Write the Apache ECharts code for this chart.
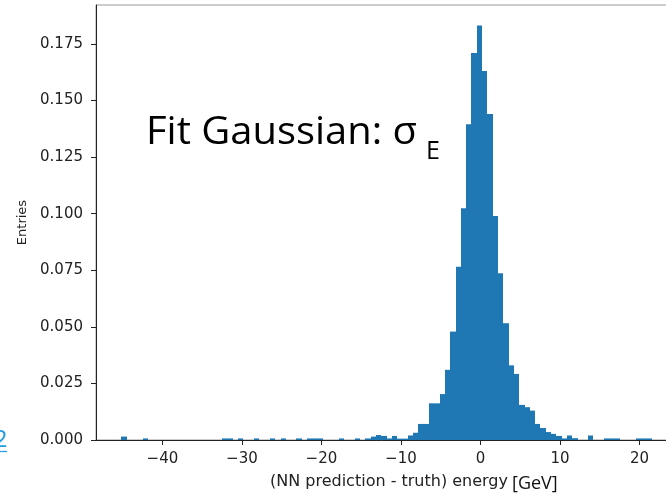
<!DOCTYPE html>
<html>
<head>
<meta charset="utf-8">
<script src="https://cdn.jsdelivr.net/npm/echarts@6/dist/echarts.min.js"></script>
<style>
  html, body { margin: 0; padding: 0; background: #fff; }
  #main { width: 666px; height: 496px; }
</style>
</head>
<body>
<div id="main"></div>
<script>
// histogram bins: left edge of first bin and bin width (GeV)
var binStart = -45.15;
var binWidth = 0.667;

// bin heights (normalised entries)
var binValues = [
    0.0015, 0, 0, 0, 0.0007, 0, 0, 0, 0, 0,
    0, 0, 0, 0, 0, 0, 0, 0, 0, 0.0007,
    0.0007, 0, 0.0007, 0, 0, 0.0007, 0, 0, 0.0007, 0,
    0.0007, 0, 0, 0.0007, 0, 0.0007, 0.0007, 0.0007, 0, 0,
    0, 0.0007, 0, 0, 0.0007, 0, 0.0007, 0.0015, 0.0022, 0.0018,
    0.0007, 0.0018, 0.0006, 0.0006, 0.0020, 0.0032, 0.0071, 0.0071, 0.0162, 0.0162,
    0.0203, 0.0310, 0.0479, 0.0766, 0.1024, 0.1395, 0.1710, 0.1831, 0.1630, 0.1440,
    0.0990, 0.0737, 0.0516, 0.0330, 0.0292, 0.0155, 0.0145, 0.0130, 0.0071, 0.0053,
    0.0035, 0.0027, 0.0018, 0.0007, 0.0020, 0.0008, 0, 0, 0.0020, 0,
    0, 0.0007, 0.0007, 0.0007, 0, 0, 0, 0.0007, 0.0007, 0.0007
];

var xTicks = [-40, -30, -20, -10, 0, 10, 20];
var yTicks = [0, 0.025, 0.05, 0.075, 0.1, 0.125, 0.15, 0.175];

var chartDom = document.getElementById('main');
var myChart = echarts.init(chartDom);
var option;

var bins = [];
binValues.forEach(function (v, i) {
    if (v > 0) {
        var lo = binStart + i * binWidth;
        bins.push([lo, lo + binWidth, v]);
    }
});

option = {
    animation: false,
    grid: {
        left: 96,
        top: 5,
        right: -16,
        bottom: 56,
        show: true,
        borderColor: '#999',
        borderWidth: 1,
        outerBoundsMode: 'none'
    },
    xAxis: {
        type: 'value',
        min: -48.35,
        max: 25.35,
        name: '(NN prediction - truth) energy',
        nameLocation: 'middle',
        nameGap: 34,
        nameTextStyle: { fontFamily: 'DejaVu Sans', fontSize: 16, color: '#222' },
        axisLine: { onZero: false, lineStyle: { color: '#222', width: 1 } },
        axisTick: { customValues: xTicks, length: 5, lineStyle: { color: '#222' } },
        axisLabel: {
            customValues: xTicks,
            margin: 12,
            fontFamily: 'DejaVu Sans',
            fontSize: 15,
            color: '#222',
            formatter: function (v) { return v < 0 ? '\u2212' + Math.abs(v) : String(v); }
        },
        splitLine: { show: false }
    },
    yAxis: {
        type: 'value',
        min: 0,
        max: 0.1922,
        name: 'Entries',
        nameLocation: 'middle',
        nameRotate: 90,
        nameGap: 65,
        nameTextStyle: { fontFamily: 'DejaVu Sans', fontSize: 13, color: '#222' },
        axisLine: { show: true, onZero: false, lineStyle: { color: '#222', width: 1 } },
        axisTick: { show: true, customValues: yTicks, length: 5, lineStyle: { color: '#222' } },
        axisLabel: {
            customValues: yTicks,
            margin: 13,
            fontFamily: 'DejaVu Sans',
            fontSize: 15,
            color: '#222',
            formatter: function (v) { return v.toFixed(3); }
        },
        splitLine: { show: false }
    },
    series: [{
        type: 'custom',
        data: bins,
        encode: { x: [0, 1], y: 2 },
        renderItem: function (params, api) {
            var p0 = api.coord([api.value(0), api.value(2)]);
            var p1 = api.coord([api.value(1), 0]);
            // snap edges to whole pixels so neighbouring bins meet without seams
            var x0 = Math.round(p0[0]);
            var x1 = Math.round(p1[0]);
            return {
                type: 'rect',
                shape: { x: x0, y: p0[1], width: x1 - x0, height: p1[1] - p0[1] },
                style: { fill: '#1f77b4' }
            };
        }
    }],
    graphic: [
        {
            type: 'text', x: 146, y: 133, scaleX: 1.05,
            style: { text: 'Fit Gaussian: \u03c3', fontFamily: 'Open Sans', fontSize: 38, fill: '#000', align: 'left', verticalAlign: 'middle' }
        },
        {
            type: 'text', x: 426, y: 152,
            style: { text: 'E', fontFamily: 'Open Sans', fontSize: 25, fill: '#000', align: 'left', verticalAlign: 'middle' }
        },
        {
            type: 'text', x: 512, y: 483.5,
            style: { text: '[GeV]', fontFamily: 'Open Sans', fontSize: 18, fill: '#111', align: 'left', verticalAlign: 'middle' }
        },
        {
            type: 'text', x: 7.5, y: 440,
            style: { text: '2', fontFamily: 'Open Sans', fontSize: 24, fill: '#1f9de2', align: 'right', verticalAlign: 'middle' }
        },
        {
            type: 'line', shape: { x1: 0, y1: 451.5, x2: 7, y2: 451.5 },
            style: { stroke: '#1f9de2', lineWidth: 1.2 }
        }
    ]
};

option && myChart.setOption(option);
</script>
</body>
</html>
